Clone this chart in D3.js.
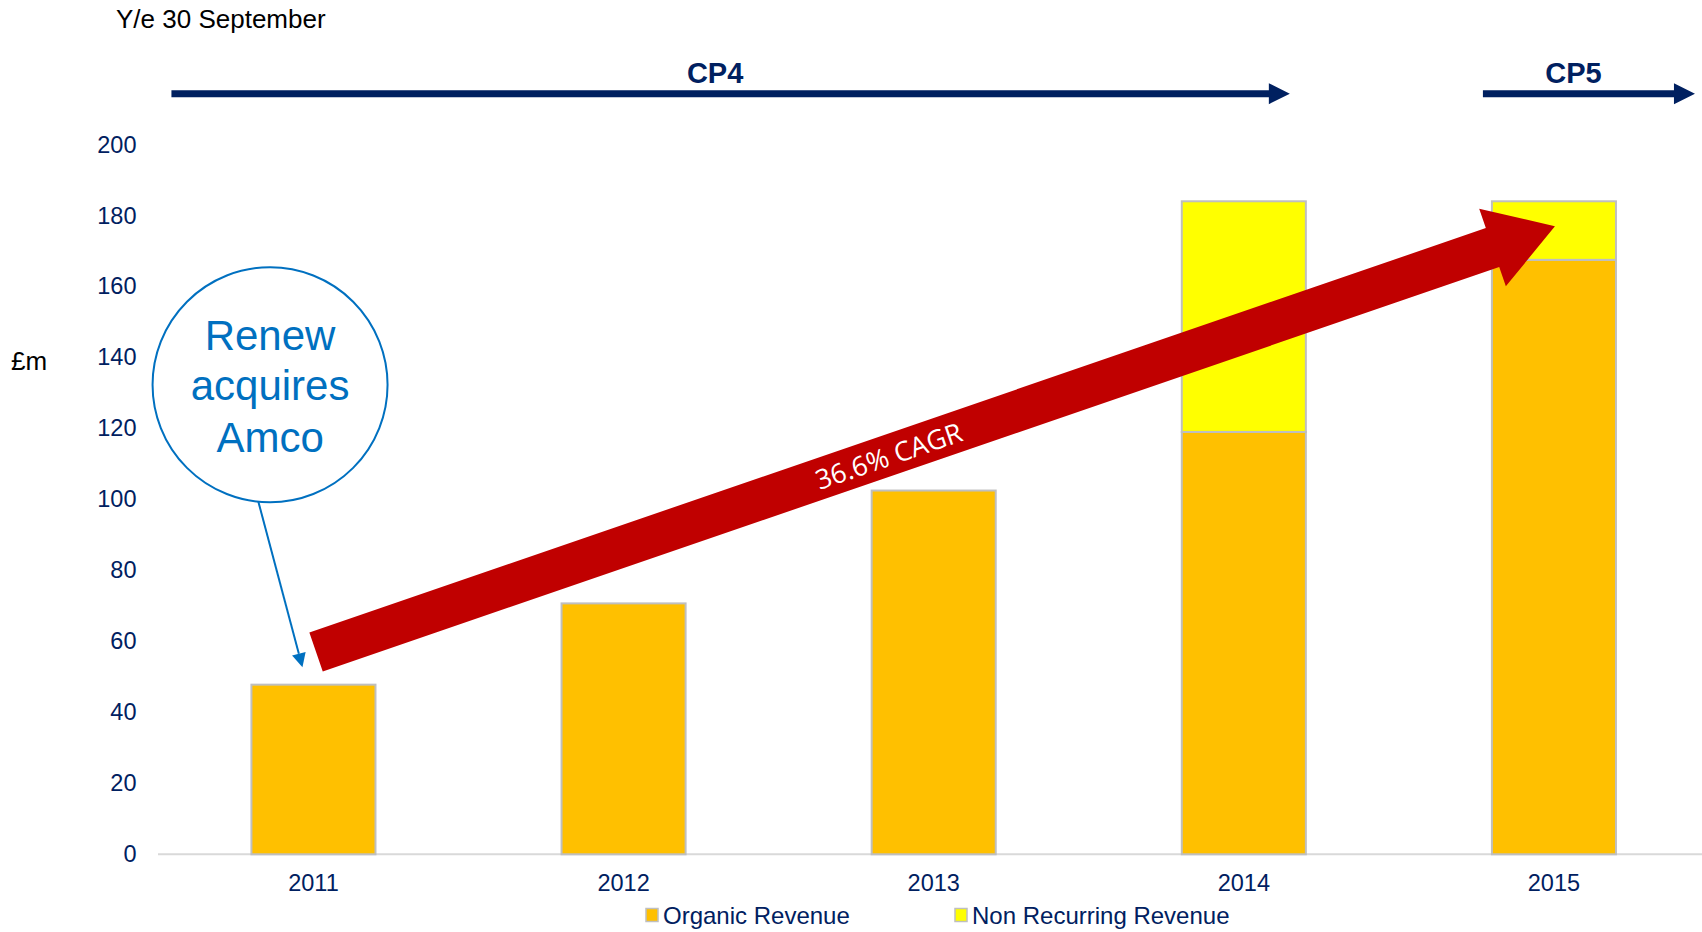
<!DOCTYPE html>
<html><head><meta charset="utf-8">
<script src="https://cdn.jsdelivr.net/npm/d3@7/dist/d3.min.js"></script>
<style>html,body{margin:0;padding:0;background:#fff;} svg{display:block;}</style>
</head><body>
<svg id="chart" width="1702" height="932"></svg>
<script>
// ---- data ----
const years = ["2011", "2012", "2013", "2014", "2015"];
const organicRevenue = [47.8, 70.7, 102.5, 119, 167.5];
const nonRecurringRevenue = [0, 0, 0, 65, 16.5];
const yTicks = [0, 20, 40, 60, 80, 100, 120, 140, 160, 180, 200];
const seriesNames = ["Organic Revenue", "Non Recurring Revenue"];
const periodLabels = ["CP4", "CP5"];
const periodFrom = ["2011", "2015"];
const periodTo = ["2014", "2015"];
const cagrLabel = "36.6% CAGR";
const cagrYears = ["2011", "2015"];
const cagrValues = [57, 177];
const calloutLines = ["Renew", "acquires", "Amco"];
const calloutYear = "2011";
const calloutCenterValue = 132.3;
const calloutTargetValue = 52.7;
const periodNote = "Y/e 30 September";
const unitLabel = "£m";

// ---- setup ----
const NAVY = "#002060", ORANGE = "#FFC000", YELLOW = "#FFFF00", RED = "#C00000", BLUE = "#0070C0";
const FONT = "'Liberation Sans', Arial, sans-serif";
const svg = d3.select("#chart");

const x = d3.scaleBand().domain(years).range([158.4, 1709]).paddingInner(0.6).paddingOuter(0.3);
const y = d3.scaleLinear().domain([0, 200]).range([854.3, 144.5]);
const bw = x.bandwidth();
const cx = yr => x(yr) + bw / 2;

const rows = years.map((yr, i) => ({ year: yr, organic: organicRevenue[i], nonrec: nonRecurringRevenue[i] }));
const stack = d3.stack().keys(["organic", "nonrec"]);
const series = stack(rows);
const fills = [ORANGE, YELLOW];

// baseline
svg.append("line").attr("x1", 158).attr("x2", 1702).attr("y1", y(0)).attr("y2", y(0))
  .attr("stroke", "#D9D9D9").attr("stroke-width", 2);

// bars
series.forEach((s, si) => {
  svg.append("g").selectAll("rect").data(s.filter(d => d[1] - d[0] > 0)).join("rect")
    .attr("x", d => x(d.data.year)).attr("width", bw)
    .attr("y", d => y(d[1])).attr("height", d => y(d[0]) - y(d[1]))
    .attr("fill", fills[si]).attr("stroke", "#BFBFBF").attr("stroke-width", 2);
});

// y axis
const yAxis = svg.append("g").attr("transform", "translate(145,0)")
  .call(d3.axisLeft(y).tickValues(yTicks).tickSize(0).tickPadding(8.5));
yAxis.select(".domain").remove();
yAxis.selectAll("text").attr("fill", NAVY).style("font-family", FONT).style("font-size", "23.5px");

// x axis
const xAxis = svg.append("g").attr("transform", `translate(0,${y(0)})`)
  .call(d3.axisBottom(x).tickSize(0).tickPadding(20));
xAxis.select(".domain").remove();
xAxis.selectAll("text").attr("fill", NAVY).style("font-family", FONT).style("font-size", "23.5px");

// top texts
svg.append("text").attr("x", 116).attr("y", 28).text(periodNote)
  .attr("fill", "#000").style("font-family", FONT).style("font-size", "26px");
svg.append("text").attr("x", 11).attr("y", 370).text(unitLabel)
  .attr("fill", "#000").style("font-family", FONT).style("font-size", "26px");

// period arrows
const periodStart = [x(periodFrom[0]) - 80, x(periodFrom[1]) - 9];
const periodEnd = [x(periodTo[0]) + bw - 16, x(periodTo[1]) + bw + 79];
periodLabels.forEach((lab, i) => {
  const x0 = periodStart[i], x1 = periodEnd[i], yy = 93.7, hl = 21, hh = 10.5, th = 7;
  svg.append("path")
    .attr("d", `M${x0},${yy - th / 2}L${x1 - hl},${yy - th / 2}L${x1 - hl},${yy - hh}L${x1},${yy}L${x1 - hl},${yy + hh}L${x1 - hl},${yy + th / 2}L${x0},${yy + th / 2}Z`)
    .attr("fill", NAVY);
  svg.append("text").attr("x", (x0 + x1 - hl) / 2 - 5).attr("y", 83).attr("text-anchor", "middle")
    .text(lab).attr("fill", NAVY).style("font-family", FONT).style("font-size", "29px").style("font-weight", "bold");
});

// CAGR arrow
{
  const tx = cx(cagrYears[0]) + 2.6, ty = y(cagrValues[0]);
  const hx = cx(cagrYears[1]) + 1, hy = y(cagrValues[1]);
  const L = Math.hypot(hx - tx, hy - ty);
  const ang = Math.atan2(hy - ty, hx - tx) * 180 / Math.PI;
  const sw = 20.6, hw = 41, hl = 66;
  const g = svg.append("g").attr("transform", `translate(${tx},${ty}) rotate(${ang})`);
  g.append("path")
    .attr("d", `M0,${-sw}L${L - hl},${-sw}L${L - hl},${-hw}L${L},0L${L - hl},${hw}L${L - hl},${sw}L0,${sw}Z`)
    .attr("fill", RED);
  g.append("text").attr("x", L * 0.462).attr("y", 0).attr("text-anchor", "middle")
    .attr("dominant-baseline", "central").text(cagrLabel)
    .attr("fill", "#fff").style("font-family", "'Open Sans', sans-serif").style("font-size", "27px");
}

// callout
{
  const ccx = cx(calloutYear) - 43.4, ccy = y(calloutCenterValue), r = 117.5;
  svg.append("circle").attr("cx", ccx).attr("cy", ccy).attr("r", r)
    .attr("fill", "none").attr("stroke", BLUE).attr("stroke-width", 2);
  const offs = [-35, 15, 67];
  calloutLines.forEach((t, i) => {
    svg.append("text").attr("x", ccx).attr("y", ccy + offs[i]).attr("text-anchor", "middle").text(t)
      .attr("fill", BLUE).style("font-family", FONT).style("font-size", "42px");
  });
  const sx = ccx - 11.7, sy = ccy + Math.sqrt(r * r - 11.7 * 11.7);
  const ex = cx(calloutYear) - 11, ey = y(calloutTargetValue);
  const a = Math.atan2(ey - sy, ex - sx), hlen = 14, hwid = 7;
  const bx = ex - hlen * Math.cos(a), by = ey - hlen * Math.sin(a);
  svg.append("line").attr("x1", sx).attr("y1", sy).attr("x2", bx).attr("y2", by)
    .attr("stroke", BLUE).attr("stroke-width", 2);
  svg.append("path")
    .attr("d", `M${ex},${ey}L${bx + hwid * Math.sin(a)},${by - hwid * Math.cos(a)}L${bx - hwid * Math.sin(a)},${by + hwid * Math.cos(a)}Z`)
    .attr("fill", BLUE);
}

// legend
const legendX = [646, 955];
seriesNames.forEach((name, i) => {
  svg.append("rect").attr("x", legendX[i]).attr("y", 908.5).attr("width", 12).attr("height", 13)
    .attr("fill", fills[i]).attr("stroke", "#BFBFBF").attr("stroke-width", 1.5);
  svg.append("text").attr("x", legendX[i] + 17).attr("y", 915).attr("dominant-baseline", "central")
    .text(name).attr("fill", NAVY).style("font-family", FONT).style("font-size", "24px");
});
</script>
</body></html>
